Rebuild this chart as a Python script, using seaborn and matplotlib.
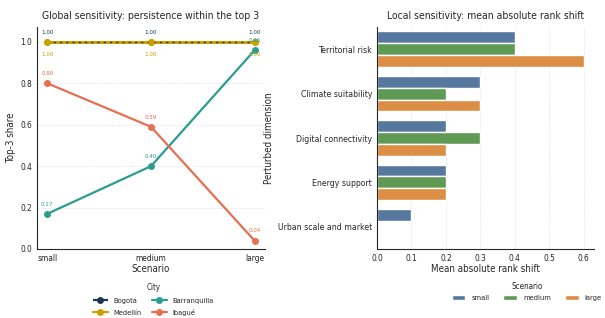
import numpy as np
import pandas as pd
import matplotlib
matplotlib.use('Agg')
import matplotlib.pyplot as plt
import seaborn as sns

scenarios = ['small', 'medium', 'large']
cities = ['Bogotá', 'Medellín', 'Barranquilla', 'Ibagué']
bogota = [1.00, 1.00, 1.00]
medellin = [1.00, 1.00, 1.00]
barranquilla = [0.17, 0.40, 0.96]
ibague = [0.80, 0.59, 0.04]
city_colors = ['#1d3557', '#c9a000', '#2a9d8f', '#e76f51']

dimensions = ['Territorial risk', 'Climate suitability', 'Digital connectivity',
              'Energy support', 'Urban scale and market']
shift_small = [0.4, 0.3, 0.2, 0.2, 0.1]
shift_medium = [0.4, 0.2, 0.3, 0.2, 0.0]
shift_large = [0.6, 0.3, 0.2, 0.2, 0.0]
scen_colors = ['#56789e', '#5f9a55', '#dc8e45']

sns.set_style('white')
plt.rcParams['font.family'] = ['DejaVu Sans']
plt.rcParams['font.stretch'] = 'condensed'

share = pd.DataFrame({
    'Scenario': scenarios * 4,
    'City': np.repeat(cities, 3),
    'share': bogota + medellin + barranquilla + ibague,
})
shifts = pd.DataFrame({
    'dimension': dimensions * 3,
    'Scenario': np.repeat(scenarios, 5),
    'shift': shift_small + shift_medium + shift_large,
})

fig = plt.figure(figsize=(6.05, 3.18), dpi=100)
ax1 = fig.add_axes([37 / 605, 69 / 318, 228 / 605, 222 / 318])
ax2 = fig.add_axes([377 / 605, 69 / 318, 217 / 605, 222 / 318])

sns.lineplot(data=share, x='Scenario', y='share', hue='City', hue_order=cities,
             palette=city_colors, marker='o', markersize=5, markeredgewidth=0,
             linewidth=1.6, ax=ax1, sort=False)
# Bogotá: thin dashed navy line over the Medellín line, Medellín markers on top
bog_line, med_line = ax1.lines[0], ax1.lines[1]
bog_line.set_linewidth(1.0)
bog_line.set_dashes([1.5, 3.0])
bog_line.set_zorder(3)
bog_line.set_marker('None')
med_line.set_linewidth(2.2)
med_line.set_zorder(2)
sns.scatterplot(x=scenarios, y=medellin, color=city_colors[1], s=22, linewidth=0,
                ax=ax1, zorder=4, legend=False)
for city, vals, col in zip(cities, [bogota, medellin, barranquilla, ibague], city_colors):
    dy = -9 if city == 'Medellín' else 7
    for i, v in enumerate(vals):
        ax1.annotate(f'{v:.2f}', (i, v), xytext=(0, dy), textcoords='offset points',
                     ha='center', va='center', fontsize=4.5, color=col, zorder=5)
ax1.set_ylim(0, 1.072)
ax1.set_title('Global sensitivity: persistence within the top 3', fontsize=7.5)
ax1.set_xlabel('Scenario', fontsize=7, labelpad=1)
ax1.set_ylabel('Top-3 share', fontsize=7, labelpad=3)
ax1.yaxis.grid(True, linestyle='--', linewidth=0.5, color='#e6e6e6')
ax1.tick_params(labelsize=6, length=2, pad=1.5)
handles, labels = ax1.get_legend_handles_labels()
handles[0].set_marker('o')
handles[0].set_dashes([1000, 1])
ax1.legend(handles, labels, title='City', ncol=2, frameon=False, fontsize=5.4,
           title_fontsize=5.8, loc='upper center', bbox_to_anchor=(0.51, -0.125),
           handlelength=2, handleheight=1.1, columnspacing=1.3, labelspacing=0.6)

sns.barplot(data=shifts, y='dimension', x='shift', hue='Scenario', hue_order=scenarios,
            palette=scen_colors, ax=ax2, saturation=1, width=0.8, errorbar=None)
ax2.set_title('Local sensitivity: mean absolute rank shift', fontsize=7.5)
ax2.set_xlabel('Mean absolute rank shift', fontsize=7, labelpad=1)
ax2.set_ylabel('Perturbed dimension', fontsize=7, labelpad=3)
ax2.xaxis.grid(True, linestyle='--', linewidth=0.5, color='#e6e6e6')
ax2.set_axisbelow(True)
ax2.tick_params(labelsize=6, length=2, pad=1.5)
ax2.tick_params(axis='y', labelsize=6.2)
ax2.legend(title='Scenario', ncol=3, frameon=False, fontsize=5.4, title_fontsize=5.8,
           loc='upper center', bbox_to_anchor=(0.69, -0.125), handlelength=1.8,
           handleheight=0.75, columnspacing=1.9, borderaxespad=0.3)

sns.despine(fig=fig)
fig.savefig('out.png', dpi=100)
